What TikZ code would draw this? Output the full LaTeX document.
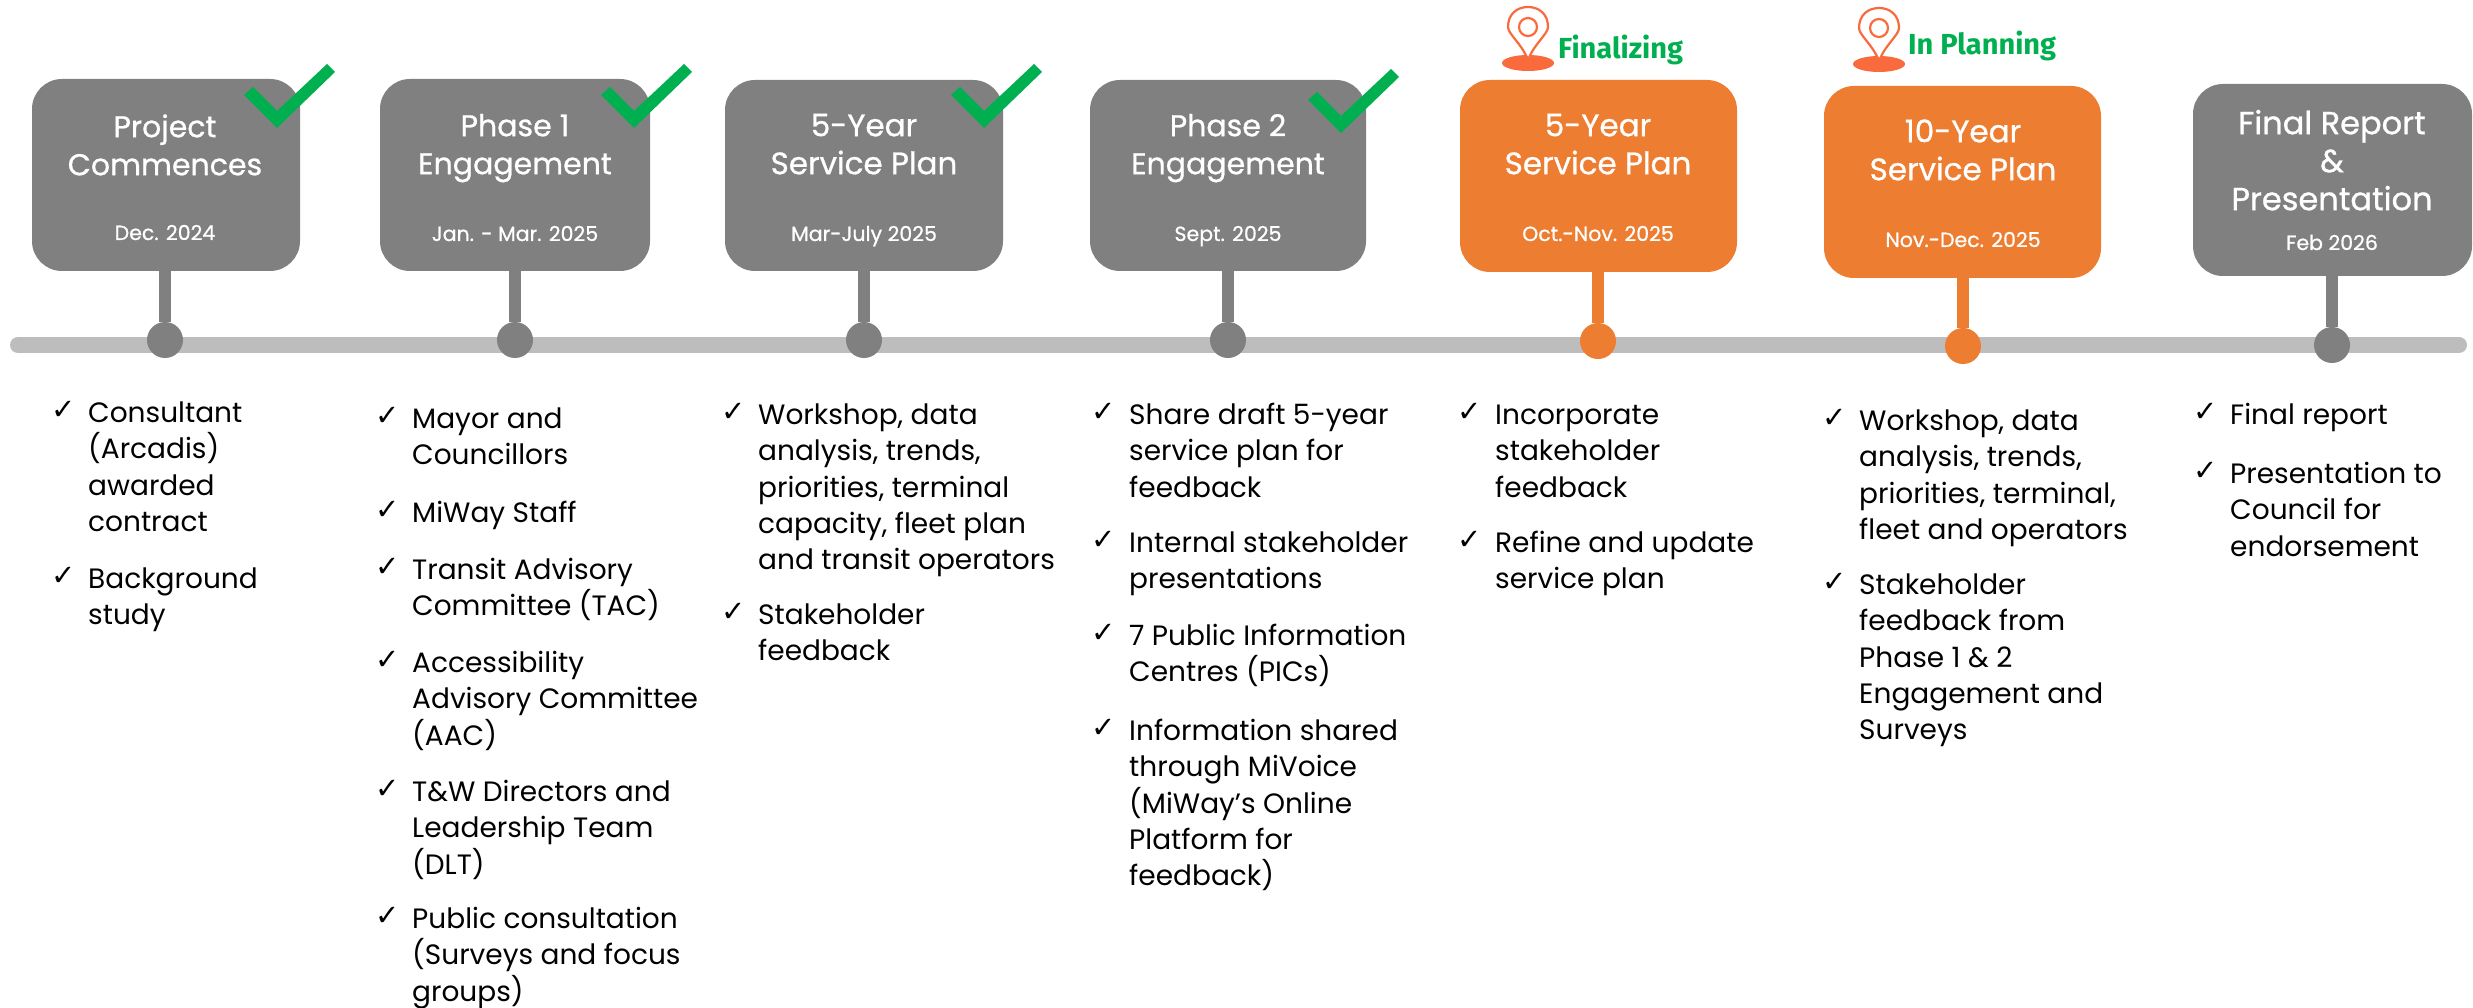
\documentclass[tikz,border=0pt]{standalone}
\usepackage{fontspec}
\setmainfont{Poppins}
\newfontfamily\dejavu{DejaVu Sans}
\newfontfamily\firafont{Fira Sans}
\newfontfamily\heavyfont{Poppins}[FakeBold=0.8]
\definecolor{boxgrey}{HTML}{808080}
\definecolor{bargrey}{HTML}{BDBDBD}
\definecolor{boxorange}{HTML}{ED7D31}
\definecolor{okgreen}{HTML}{00B050}
\definecolor{pinred}{HTML}{F96B3C}
\newcommand{\boxnode}[6]{% name, x1, x2, y1, y2, colour
  \path[fill=#6,rounded corners=30pt] (#2,-#4) rectangle (#3,-#5);
  \node[minimum width=#3pt-#2pt,minimum height=#5pt-#4pt,inner sep=0pt] (#1) at ({(#2+#3)/2},{-(#4+#5)/2}) {};
}
\newcommand{\milestone}[4]{% name, x, y, colour
  \node[circle,fill=#4,minimum size=36pt,inner sep=0pt] (#1) at (#2,-#3) {};
}
\newcommand{\gcheck}[2]{% dx, dy
  \fill[okgreen,shift={(#1,-#2)}] (327,-64) -- (335,-72) -- (277,-128) -- (244,-95) -- (253,-87) -- (277,-111) -- cycle;
}
\newcommand{\pin}[2]{% x, dy
  \fill[pinred] (#1,-#2-63) ellipse (26 and 8);
  \draw[pinred,line width=2.2pt,fill=white,shift={(#1,-#2)}] (0,-60) .. controls (-6,-44) and (-20,-34) .. (-20,-27) .. controls (-20,-14) and (-11,-7) .. (0,-7) .. controls (11,-7) and (20,-14) .. (20,-27) .. controls (20,-34) and (6,-44) .. (0,-60) -- cycle;
  \draw[pinred,line width=2.2pt] (#1,-#2-27) circle (9);
}
\newcommand{\items}[5]{% name, check x, text x, baseline y, text
  \node[checkmark] (#1c) at (#2,-#4+3) {\dejavu ✓};
  \node[listtext] (#1) at (#3,-#4+28) {\rule{0pt}{28pt}#5};
}
\newcommand{\titlenode}[5]{% name, x, first baseline, size, text
  \node[title,font=\heavyfont\fontsize{#4}{38}\selectfont] (#1) at (#2,-#3+30) {\rule{0pt}{30pt}#5};
}
\begin{document}
\begin{tikzpicture}[x=1pt,y=1pt,
  title/.style={text=white,align=center,inner sep=0pt,anchor=north},
  datelabel/.style={text=white,font=\heavyfont\fontsize{20.5}{24}\selectfont,inner sep=0pt,anchor=base},
  listtext/.style={anchor=north west,align=left,inner sep=0pt,font=\fontsize{28}{36.4}\selectfont,text=black},
  checkmark/.style={anchor=base west,inner sep=0pt,font=\fontsize{29}{29}\selectfont,text=black},
  status/.style={text=okgreen,anchor=base west,inner sep=0pt,font=\firafont\bfseries\fontsize{29}{29}\selectfont}]
\useasboundingbox (0,0) rectangle (2473,-1008);
\fill[white] (0,0) rectangle (2473,-1008);
\coordinate (barL) at (18,-345);
\coordinate (barR) at (2459,-345);
\draw[bargrey,line width=16pt,line cap=round] (barL) -- (barR);

\boxnode{b1}{32}{300}{79}{271}{boxgrey}
\boxnode{b2}{380}{650}{79}{271}{boxgrey}
\boxnode{b3}{725}{1003}{80}{271}{boxgrey}
\boxnode{b4}{1090}{1366}{80}{271}{boxgrey}
\boxnode{b5}{1460}{1737}{80}{272}{boxorange}
\boxnode{b6}{1824}{2101}{86}{278}{boxorange}
\boxnode{b7}{2193}{2472}{84}{276}{boxgrey}

\milestone{d1}{165}{340}{boxgrey}
\milestone{d2}{515}{340}{boxgrey}
\milestone{d3}{864}{340}{boxgrey}
\milestone{d4}{1228}{340}{boxgrey}
\milestone{d5}{1598}{341}{boxorange}
\milestone{d6}{1963}{346}{boxorange}
\milestone{d7}{2332}{345}{boxgrey}

\foreach \i/\c in {1/boxgrey,2/boxgrey,3/boxgrey,4/boxgrey,5/boxorange,6/boxorange,7/boxgrey}
  \draw[\c,line width=12pt] (b\i.south -| d\i) -- (d\i);

\titlenode{t1}{165}{137}{30}{Project\\Commences}
\titlenode{t2}{515}{136}{30}{Phase 1\\Engagement}
\titlenode{t3}{864}{136}{31}{5-Year\\Service Plan}
\titlenode{t4}{1228}{136}{30}{Phase 2\\Engagement}
\titlenode{t5}{1598}{136}{31}{5-Year\\Service Plan}
\titlenode{t6}{1963}{142}{31}{10-Year\\Service Plan}
\titlenode{t7}{2332}{134}{32}{Final Report\\\&\\Presentation}

\node[datelabel] (e1) at (165,-240) {Dec. 2024};
\node[datelabel] (e2) at (515,-241) {Jan. - Mar. 2025};
\node[datelabel] (e3) at (864,-241) {Mar-July 2025};
\node[datelabel] (e4) at (1228,-241) {Sept. 2025};
\node[datelabel] (e5) at (1598,-241) {Oct.-Nov. 2025};
\node[datelabel] (e6) at (1963,-247) {Nov.-Dec. 2025};
\node[datelabel] (e7) at (2332,-250) {Feb 2026};

\gcheck{0}{0}
\gcheck{357}{0}
\gcheck{707}{0}
\gcheck{1064}{5}

\pin{1528}{0}
\pin{1879}{1}
\node[status] (s5) at (1558,-59) {Finalizing};
\node[status] (s6) at (1908,-55) {In Planning};

\items{a1}{51}{88}{422}{Consultant\\(Arcadis)\\awarded\\contract}
\items{a2}{51}{88}{588}{Background\\study}

\items{c1}{375}{412}{428}{Mayor and\\Councillors}
\items{c2}{375}{412}{522}{MiWay Staff}
\items{c3}{375}{412}{579}{Transit Advisory\\Committee (TAC)}
\items{c4}{375}{412}{672}{Accessibility\\Advisory Committee\\(AAC)}
\items{c5}{375}{412}{801}{T\&W Directors and\\Leadership Team\\(DLT)}
\items{c6}{375}{412}{928}{Public consultation\\(Surveys and focus\\groups)}

\items{f1}{721}{758}{424}{Workshop, data\\analysis, trends,\\priorities, terminal\\capacity, fleet plan\\and transit operators}
\items{f2}{721}{758}{624}{Stakeholder\\feedback}

\items{g1}{1091}{1129}{424}{Share draft 5-year\\service plan for\\feedback}
\items{g2}{1091}{1129}{552}{Internal stakeholder\\presentations}
\items{g3}{1091}{1129}{645}{7 Public Information\\Centres (PICs)}
\items{g4}{1091}{1129}{740}{Information shared\\through MiVoice\\(MiWay’s Online\\Platform for\\feedback)}

\items{h1}{1457}{1495}{424}{Incorporate\\stakeholder\\feedback}
\items{h2}{1457}{1495}{552}{Refine and update\\service plan}

\items{k1}{1822}{1859}{430}{Workshop, data\\analysis, trends,\\priorities, terminal,\\fleet and operators}
\items{k2}{1822}{1859}{594}{Stakeholder\\feedback from\\Phase 1 \& 2\\Engagement and\\Surveys}

\items{m1}{2193}{2230}{424}{Final report}
\items{m2}{2193}{2230}{483}{Presentation to\\Council for\\endorsement}
\end{tikzpicture}
\end{document}
